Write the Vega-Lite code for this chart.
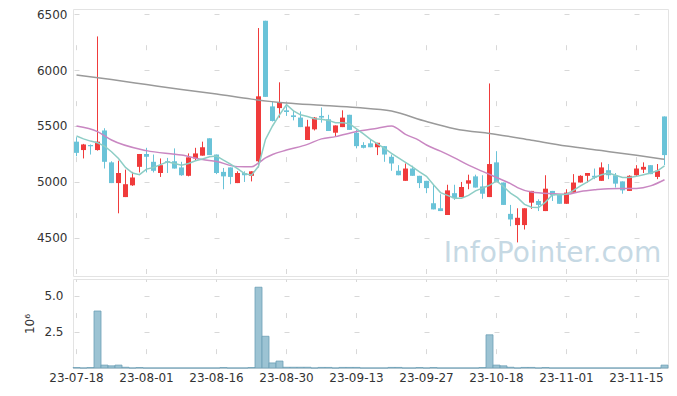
{
  "$schema": "https://vega.github.io/schema/vega-lite/v6.json",
  "background": "white",
  "padding": {"left": 23, "top": 7, "right": 9, "bottom": 0},
  "spacing": 1,
  "config": {
    "font": "DejaVu Sans",
    "view": {"stroke": "#e3e3e3"},
    "axis": {"labelFont": "DejaVu Sans", "labelFontSize": 12, "labelColor": "#333333", "ticks": false, "tickSize": 0, "domain": false, "gridColor": "#d8d8d8", "gridWidth": 1, "titleFont": "DejaVu Sans", "titleFontSize": 12, "titleFontWeight": "normal", "titleColor": "#333333"}
  },
  "datasets": {
    "c": [
      {"d":"23-07-18","o":5360,"h":5400,"l":5230,"c":5260,"v":0.03,"m5":5410},
      {"d":"23-07-19","o":5285,"h":5340,"l":5210,"c":5335,"v":0,"m5":5385},
      {"d":"23-07-20","o":5330,"h":5335,"l":5245,"c":5320,"v":0.03,"m5":5365},
      {"d":"23-07-21","o":5285,"h":6300,"l":5280,"c":5360,"v":3.95,"m5":5350},
      {"d":"23-07-24","o":5460,"h":5480,"l":5120,"c":5180,"v":0.2,"m5":5320},
      {"d":"23-07-25","o":5175,"h":5185,"l":4990,"c":4990,"v":0.15,"m5":5270},
      {"d":"23-07-26","o":4990,"h":5190,"l":4720,"c":5080,"v":0.2,"m5":5210},
      {"d":"23-07-27","o":4865,"h":5110,"l":4865,"c":4980,"v":0.05,"m5":5130},
      {"d":"23-07-28","o":4970,"h":5090,"l":4965,"c":5040,"v":0,"m5":5080},
      {"d":"23-07-31","o":5135,"h":5250,"l":5085,"c":5250,"v":0.03,"m5":5065},
      {"d":"23-08-01","o":5250,"h":5305,"l":5085,"c":5225,"v":0,"m5":5115},
      {"d":"23-08-02","o":5180,"h":5245,"l":5085,"c":5100,"v":0,"m5":5130},
      {"d":"23-08-03","o":5080,"h":5210,"l":5045,"c":5150,"v":0,"m5":5155},
      {"d":"23-08-04","o":5185,"h":5215,"l":5080,"c":5175,"v":0,"m5":5180},
      {"d":"23-08-07","o":5185,"h":5300,"l":5120,"c":5120,"v":0,"m5":5165},
      {"d":"23-08-08","o":5130,"h":5180,"l":5055,"c":5060,"v":0,"m5":5150},
      {"d":"23-08-09","o":5055,"h":5255,"l":5050,"c":5220,"v":0,"m5":5165},
      {"d":"23-08-10","o":5210,"h":5305,"l":5190,"c":5255,"v":0,"m5":5190},
      {"d":"23-08-11","o":5235,"h":5360,"l":5235,"c":5310,"v":0,"m5":5205},
      {"d":"23-08-14","o":5390,"h":5390,"l":5240,"c":5240,"v":0,"m5":5225},
      {"d":"23-08-16","o":5245,"h":5245,"l":5070,"c":5080,"v":0,"m5":5232},
      {"d":"23-08-17","o":5090,"h":5125,"l":4935,"c":5050,"v":0.03,"m5":5195},
      {"d":"23-08-18","o":5130,"h":5130,"l":4980,"c":5045,"v":0,"m5":5160},
      {"d":"23-08-21","o":4990,"h":5095,"l":4990,"c":5080,"v":0,"m5":5120},
      {"d":"23-08-22","o":5080,"h":5095,"l":5000,"c":5060,"v":0,"m5":5075},
      {"d":"23-08-23","o":5055,"h":5095,"l":5005,"c":5095,"v":0.03,"m5":5060},
      {"d":"23-08-24","o":5185,"h":6375,"l":5130,"c":5765,"v":5.6,"m5":5140},
      {"d":"23-08-25","o":6440,"h":6440,"l":5760,"c":5760,"v":2.2,"m5":5380},
      {"d":"23-08-28","o":5675,"h":5715,"l":5540,"c":5545,"v":0.35,"m5":5500},
      {"d":"23-08-29","o":5660,"h":5890,"l":5575,"c":5710,"v":0.48,"m5":5600},
      {"d":"23-08-30","o":5640,"h":5675,"l":5590,"c":5625,"v":0.05,"m5":5690},
      {"d":"23-08-31","o":5595,"h":5640,"l":5550,"c":5580,"v":0.05,"m5":5635},
      {"d":"23-09-01","o":5575,"h":5630,"l":5490,"c":5490,"v":0.05,"m5":5600},
      {"d":"23-09-04","o":5375,"h":5555,"l":5375,"c":5495,"v":0.05,"m5":5585},
      {"d":"23-09-05","o":5470,"h":5580,"l":5460,"c":5575,"v":0,"m5":5565},
      {"d":"23-09-06","o":5590,"h":5665,"l":5530,"c":5575,"v":0.04,"m5":5560},
      {"d":"23-09-07","o":5560,"h":5600,"l":5455,"c":5455,"v":0.04,"m5":5550},
      {"d":"23-09-08","o":5440,"h":5505,"l":5405,"c":5505,"v":0,"m5":5530},
      {"d":"23-09-11","o":5490,"h":5640,"l":5490,"c":5575,"v":0.04,"m5":5530},
      {"d":"23-09-12","o":5600,"h":5600,"l":5465,"c":5465,"v":0.04,"m5":5520},
      {"d":"23-09-13","o":5440,"h":5465,"l":5300,"c":5320,"v":0.04,"m5":5475},
      {"d":"23-09-14","o":5330,"h":5355,"l":5300,"c":5305,"v":0,"m5":5430},
      {"d":"23-09-15","o":5345,"h":5380,"l":5310,"c":5310,"v":0,"m5":5380},
      {"d":"23-09-18","o":5310,"h":5350,"l":5240,"c":5350,"v":0,"m5":5340},
      {"d":"23-09-19","o":5320,"h":5320,"l":5180,"c":5245,"v":0,"m5":5300},
      {"d":"23-09-20","o":5225,"h":5245,"l":5100,"c":5165,"v":0.04,"m5":5255},
      {"d":"23-09-21","o":5100,"h":5150,"l":5060,"c":5060,"v":0.04,"m5":5215},
      {"d":"23-09-22","o":5010,"h":5165,"l":5010,"c":5120,"v":0,"m5":5175},
      {"d":"23-09-25","o":5120,"h":5145,"l":5055,"c":5055,"v":0,"m5":5135},
      {"d":"23-09-26","o":5055,"h":5055,"l":4945,"c":4990,"v":0.03,"m5":5090},
      {"d":"23-09-27","o":5010,"h":5010,"l":4900,"c":4945,"v":0,"m5":5050},
      {"d":"23-10-04","o":4810,"h":4980,"l":4755,"c":4755,"v":0.03,"m5":4975},
      {"d":"23-10-05","o":4765,"h":4890,"l":4740,"c":4740,"v":0,"m5":4905},
      {"d":"23-10-06","o":4705,"h":4975,"l":4705,"c":4925,"v":0,"m5":4880},
      {"d":"23-10-10","o":4900,"h":4975,"l":4840,"c":4855,"v":0,"m5":4855},
      {"d":"23-10-11","o":4865,"h":5000,"l":4865,"c":4955,"v":0,"m5":4855},
      {"d":"23-10-12","o":4985,"h":5065,"l":4935,"c":5015,"v":0,"m5":4880},
      {"d":"23-10-13","o":5050,"h":5065,"l":4950,"c":4950,"v":0,"m5":4920},
      {"d":"23-10-16","o":4960,"h":5060,"l":4850,"c":4895,"v":0.03,"m5":4945},
      {"d":"23-10-17","o":4865,"h":5880,"l":4865,"c":5160,"v":2.3,"m5":4970},
      {"d":"23-10-18","o":5175,"h":5275,"l":5000,"c":5000,"v":0.2,"m5":5010},
      {"d":"23-10-19","o":4995,"h":4995,"l":4795,"c":4795,"v":0.15,"m5":4960},
      {"d":"23-10-20","o":4715,"h":4795,"l":4605,"c":4665,"v":0.05,"m5":4900},
      {"d":"23-10-23","o":4615,"h":4765,"l":4460,"c":4680,"v":0,"m5":4860},
      {"d":"23-10-24","o":4615,"h":4765,"l":4575,"c":4765,"v":0.04,"m5":4800},
      {"d":"23-10-25","o":4815,"h":4920,"l":4760,"c":4920,"v":0.04,"m5":4775},
      {"d":"23-10-26","o":4830,"h":4845,"l":4740,"c":4795,"v":0,"m5":4772},
      {"d":"23-10-27","o":4740,"h":5060,"l":4740,"c":4940,"v":0.03,"m5":4820},
      {"d":"23-10-30","o":4920,"h":4920,"l":4830,"c":4880,"v":0,"m5":4885},
      {"d":"23-10-31","o":4890,"h":4890,"l":4805,"c":4805,"v":0,"m5":4885},
      {"d":"23-11-01","o":4805,"h":4935,"l":4805,"c":4905,"v":0,"m5":4890},
      {"d":"23-11-02","o":4905,"h":5070,"l":4905,"c":4995,"v":0,"m5":4925},
      {"d":"23-11-03","o":4995,"h":5060,"l":4995,"c":5055,"v":0,"m5":4965},
      {"d":"23-11-06","o":5055,"h":5080,"l":4995,"c":5080,"v":0,"m5":5000},
      {"d":"23-11-07","o":5055,"h":5120,"l":5025,"c":5040,"v":0,"m5":5040},
      {"d":"23-11-08","o":5010,"h":5175,"l":5010,"c":5130,"v":0,"m5":5065},
      {"d":"23-11-09","o":5105,"h":5160,"l":5025,"c":5060,"v":0,"m5":5080},
      {"d":"23-11-10","o":5060,"h":5080,"l":4950,"c":4985,"v":0,"m5":5060},
      {"d":"23-11-13","o":5005,"h":5005,"l":4895,"c":4925,"v":0,"m5":5040},
      {"d":"23-11-14","o":4920,"h":5060,"l":4920,"c":5055,"v":0,"m5":5040},
      {"d":"23-11-15","o":5060,"h":5150,"l":5055,"c":5120,"v":0,"m5":5050},
      {"d":"23-11-16","o":5110,"h":5175,"l":5080,"c":5135,"v":0,"m5":5065},
      {"d":"23-11-17","o":5150,"h":5150,"l":5070,"c":5070,"v":0,"m5":5080},
      {"d":"23-11-20","o":5045,"h":5160,"l":5025,"c":5100,"v":0,"m5":5100},
      {"d":"23-11-21","o":5585,"h":5585,"l":5150,"c":5240,"v":0.2,"m5":5143}
    ],
    "g": [
      {"d":"23-07-18","v":5955},{"d":"23-07-25","v":5915},{"d":"23-08-01","v":5870},{"d":"23-08-08","v":5825},
      {"d":"23-08-16","v":5785},{"d":"23-08-23","v":5740},{"d":"23-08-30","v":5705},{"d":"23-09-06","v":5685},
      {"d":"23-09-13","v":5665},{"d":"23-09-20","v":5633},{"d":"23-09-27","v":5540},{"d":"23-10-10","v":5476},
      {"d":"23-10-18","v":5425},{"d":"23-10-25","v":5373},{"d":"23-11-01","v":5321},{"d":"23-11-08","v":5280},
      {"d":"23-11-15","v":5238},{"d":"23-11-21","v":5202}
    ],
    "p": [
      {"d":"23-07-18","v":5500},{"d":"23-07-21","v":5450},{"d":"23-07-25","v":5375},{"d":"23-08-01","v":5280},
      {"d":"23-08-08","v":5240},{"d":"23-08-11","v":5200},{"d":"23-08-16","v":5182},{"d":"23-08-21","v":5137},
      {"d":"23-08-23","v":5135},{"d":"23-08-24","v":5170},{"d":"23-08-25","v":5215},{"d":"23-08-28","v":5245},
      {"d":"23-08-30","v":5285},{"d":"23-09-04","v":5336},{"d":"23-09-06","v":5385},{"d":"23-09-08","v":5405},
      {"d":"23-09-13","v":5450},{"d":"23-09-18","v":5480},{"d":"23-09-20","v":5500},{"d":"23-09-22","v":5425},
      {"d":"23-09-26","v":5370},{"d":"23-09-27","v":5330},{"d":"23-10-05","v":5275},{"d":"23-10-10","v":5215},
      {"d":"23-10-12","v":5150},{"d":"23-10-16","v":5095},{"d":"23-10-18","v":5040},{"d":"23-10-20","v":4985},
      {"d":"23-10-23","v":4950},{"d":"23-10-25","v":4910},{"d":"23-10-30","v":4895},{"d":"23-11-01","v":4890},
      {"d":"23-11-03","v":4915},{"d":"23-11-07","v":4930},{"d":"23-11-09","v":4940},{"d":"23-11-15","v":4942},
      {"d":"23-11-17","v":4965},{"d":"23-11-21","v":5020}
    ],
    "wm": [{"d":"23-10-30","p":4355,"t":"InfoPointer.com"}]
  },
  "vconcat": [
    {
      "width": 595,
      "height": 267,
      "encoding": {
        "x": {"field": "d", "type": "ordinal", "scale": {"paddingInner": 0, "paddingOuter": 0},
          "axis": {"title": null, "labels": false, "grid": true, "values": ["23-07-18","23-08-01","23-08-16","23-08-30","23-09-13","23-09-27","23-10-18","23-11-01","23-11-15"], "gridDash": [5, 50.95], "gridDashOffset": 20.25}}
      },
      "layer": [
        {
          "data": {"name": "wm"},
          "mark": {"type": "text", "fontSize": 28, "color": "#c6d9e4", "align": "center", "baseline": "middle", "font": "DejaVu Sans"},
          "encoding": {
            "y": {"field": "p", "type": "quantitative", "scale": {"domain": [4160, 6545], "nice": false, "zero": false},
              "axis": {"title": null, "values": [4500, 5000, 5500, 6000, 6500], "format": "d", "labelPadding": 6, "grid": true, "gridDash": [5, 65], "gridDashOffset": 69}},
            "text": {"field": "t"}
          }
        },
        {
          "data": {"name": "c"},
          "mark": {"type": "rule", "strokeWidth": 1},
          "encoding": {
            "y": {"field": "l", "type": "quantitative"},
            "y2": {"field": "h"},
            "color": {"condition": {"test": "datum.c >= datum.o", "value": "#f03b3b"}, "value": "#6ac3d8"}
          }
        },
        {
          "data": {"name": "c"},
          "mark": {"type": "bar", "width": {"band": 0.72}},
          "encoding": {
            "y": {"field": "o", "type": "quantitative"},
            "y2": {"field": "c"},
            "color": {"condition": {"test": "datum.c >= datum.o", "value": "#f03b3b"}, "value": "#6ac3d8"}
          }
        },
        {
          "data": {"name": "g"},
          "mark": {"type": "line", "color": "#9a9a9a", "strokeWidth": 1.5, "interpolate": "monotone"},
          "encoding": {"y": {"field": "v", "type": "quantitative"}}
        },
        {
          "data": {"name": "p"},
          "mark": {"type": "line", "color": "#c987c2", "strokeWidth": 1.5, "interpolate": "monotone"},
          "encoding": {"y": {"field": "v", "type": "quantitative"}}
        },
        {
          "data": {"name": "c"},
          "mark": {"type": "line", "color": "#8dcdc5", "strokeWidth": 1.5},
          "encoding": {"y": {"field": "m5", "type": "quantitative"}}
        }
      ]
    },
    {
      "width": 595,
      "height": 89,
      "data": {"name": "c"},
      "mark": {"type": "bar", "color": "#9cc3d3", "stroke": "#6c9fb6", "strokeWidth": 0.8},
      "encoding": {
        "x": {"field": "d", "type": "ordinal", "scale": {"paddingInner": 0, "paddingOuter": 0},
          "axis": {"title": null, "labelAngle": 0, "labelPadding": 4, "grid": true, "values": ["23-07-18","23-08-01","23-08-16","23-08-30","23-09-13","23-09-27","23-10-18","23-11-01","23-11-15"], "gridDash": [5, 31.06], "gridDashOffset": 2.5}},
        "y": {"field": "v", "type": "quantitative", "scale": {"domain": [0, 6.17], "nice": false},
          "axis": {"title": "10⁶", "values": [2.5, 5], "format": ".1f", "labelPadding": 10, "titlePadding": 7, "grid": true, "gridDash": [5, 65], "gridDashOffset": 69}}
      }
    }
  ]
}
